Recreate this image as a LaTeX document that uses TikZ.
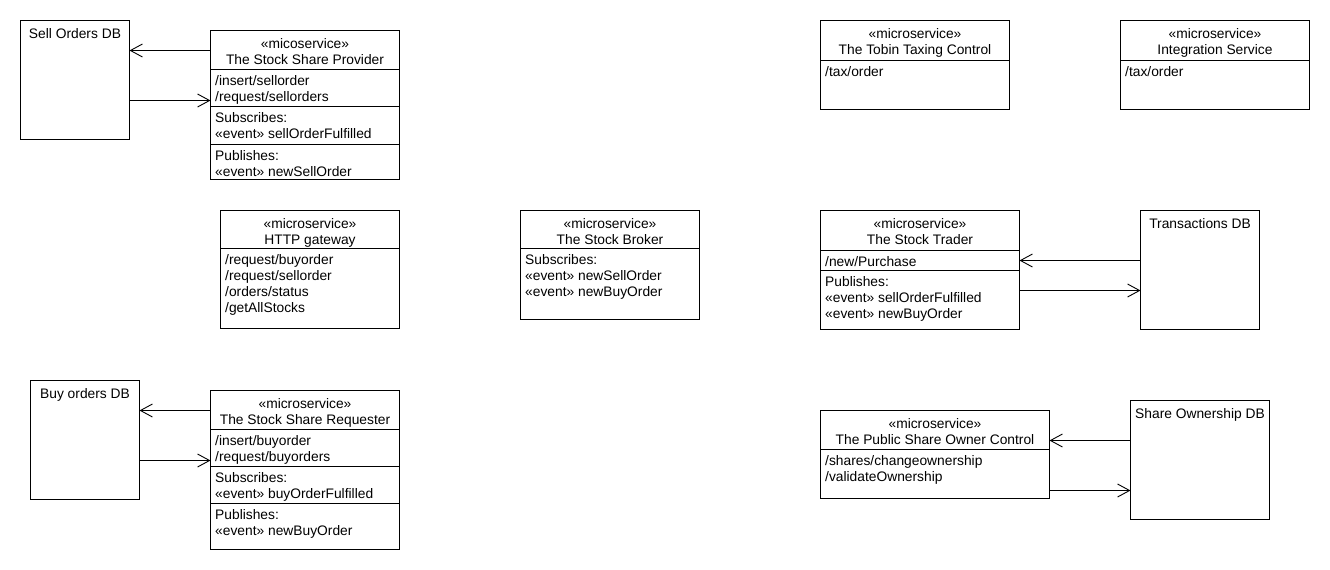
\documentclass[tikz,border=0pt]{standalone}
\usepackage{fontspec}
\setmainfont{Liberation Sans}
\usetikzlibrary{arrows.meta,fit}
\newcommand\tf{\fontsize{13.8}{16}\selectfont}
\begin{document}
\begin{tikzpicture}[x=1pt,y=-1pt,
  frame/.style={draw, line width=0.9pt, inner sep=0pt, outer sep=0pt},
  hd/.style={font=\tf, inner sep=0pt, anchor=base},
  ln/.style={font=\tf, inner sep=0pt, anchor=base west, yshift=-1pt},
  sepline/.style={line width=0.9pt},
  conn/.style={line width=0.9pt, -{Straight Barb[length=12pt,width=13pt,line width=0.9pt]}}]
\useasboundingbox (0,0) rectangle (1330,570);

% ---------- Sell Orders DB + Stock Share Provider
\node[frame, fit={(20.5,20.5) (129.5,139.5)}] (selldb) {};
\node[hd] (selldbt) at (75,38) {Sell Orders DB};
\node[frame, fit={(210.5,30.5) (399.5,179.5)}] (prov) {};
\node[hd] (provh1) at (305,48.5) {«micoservice»};
\node[hd] (provh2) at (305,64.5) {The Stock Share Provider};
\draw[sepline] (210.5,69.5) -- (399.5,69.5);
\node[ln] (provl1) at (215,84.5) {/insert/sellorder};
\node[ln] (provl2) at (215,100.5) {/request/sellorders};
\draw[sepline] (210.5,106.5) -- (399.5,106.5);
\node[ln] (provl3) at (215,121.5) {Subscribes:};
\node[ln] (provl4) at (215,137.5) {«event» sellOrderFulfilled};
\draw[sepline] (210.5,144) -- (399.5,144);
\node[ln] (provl5) at (215,159) {Publishes:};
\node[ln] (provl6) at (215,175) {«event» newSellOrder};
\coordinate (ya) at (0,50.5);
\coordinate (yb) at (0,100.5);
\draw[conn] (prov.west |- ya) -- (selldb.east |- ya);
\draw[conn] (selldb.east |- yb) -- (prov.west |- yb);

% ---------- HTTP gateway
\node[frame, fit={(220.5,210.5) (399.5,328.5)}] (http) {};
\node[hd] (httph1) at (310,228.5) {«microservice»};
\node[hd] (httph2) at (310,244.5) {HTTP gateway};
\draw[sepline] (220.5,248.5) -- (399.5,248.5);
\node[ln] (httpl1) at (225,263.5) {/request/buyorder};
\node[ln] (httpl2) at (225,279.5) {/request/sellorder};
\node[ln] (httpl3) at (225,295.5) {/orders/status};
\node[ln] (httpl4) at (225,311.5) {/getAllStocks};

% ---------- Stock Broker
\node[frame, fit={(520.5,210.5) (699.5,319.5)}] (brok) {};
\node[hd] (brokh1) at (610,228.5) {«microservice»};
\node[hd] (brokh2) at (610,244.5) {The Stock Broker};
\draw[sepline] (520.5,248.5) -- (699.5,248.5);
\node[ln] (brokl1) at (525,263.5) {Subscribes:};
\node[ln] (brokl2) at (525,279.5) {«event» newSellOrder};
\node[ln] (brokl3) at (525,295.5) {«event» newBuyOrder};

% ---------- Tobin Taxing Control
\node[frame, fit={(820.5,20.5) (1009.5,109.5)}] (tobin) {};
\node[hd] (tobinh1) at (915,38.5) {«microservice»};
\node[hd] (tobinh2) at (915,54.5) {The Tobin Taxing Control};
\draw[sepline] (820.5,60.5) -- (1009.5,60.5);
\node[ln] (tobinl1) at (825,75.5) {/tax/order};

% ---------- Integration Service
\node[frame, fit={(1120.5,20.5) (1309.5,109.5)}] (integ) {};
\node[hd] (integh1) at (1215,38.5) {«microservice»};
\node[hd] (integh2) at (1215,54.5) {Integration Service};
\draw[sepline] (1120.5,60.5) -- (1309.5,60.5);
\node[ln] (integl1) at (1125,75.5) {/tax/order};

% ---------- Stock Trader + Transactions DB
\node[frame, fit={(820.5,210.5) (1019.5,329.5)}] (trad) {};
\node[hd] (tradh1) at (920,228.5) {«microservice»};
\node[hd] (tradh2) at (920,244.5) {The Stock Trader};
\draw[sepline] (820.5,250.5) -- (1019.5,250.5);
\node[ln] (tradl1) at (825,265.5) {/new/Purchase};
\draw[sepline] (820.5,270.5) -- (1019.5,270.5);
\node[ln] (tradl2) at (825,285.5) {Publishes:};
\node[ln] (tradl3) at (825,301.5) {«event» sellOrderFulfilled};
\node[ln] (tradl4) at (825,317.5) {«event» newBuyOrder};
\node[frame, fit={(1140.5,210.5) (1259.5,329.5)}] (txdb) {};
\node[hd] (txdbt) at (1200,228) {Transactions DB};
\coordinate (yc) at (0,260.5);
\coordinate (yd) at (0,290.5);
\draw[conn] (txdb.west |- yc) -- (trad.east |- yc);
\draw[conn] (trad.east |- yd) -- (txdb.west |- yd);

% ---------- Buy orders DB + Stock Share Requester
\node[frame, fit={(30.5,380.5) (139.5,499.5)}] (buydb) {};
\node[hd] (buydbt) at (85,398) {Buy orders DB};
\node[frame, fit={(210.5,390.5) (399.5,549.5)}] (req) {};
\node[hd] (reqh1) at (305,408.5) {«microservice»};
\node[hd] (reqh2) at (305,424.5) {The Stock Share Requester};
\draw[sepline] (210.5,429.5) -- (399.5,429.5);
\node[ln] (reql1) at (215,444.5) {/insert/buyorder};
\node[ln] (reql2) at (215,460.5) {/request/buyorders};
\draw[sepline] (210.5,466.5) -- (399.5,466.5);
\node[ln] (reql3) at (215,481.5) {Subscribes:};
\node[ln] (reql4) at (215,497.5) {«event» buyOrderFulfilled};
\draw[sepline] (210.5,503.5) -- (399.5,503.5);
\node[ln] (reql5) at (215,518.5) {Publishes:};
\node[ln] (reql6) at (215,534.5) {«event» newBuyOrder};
\coordinate (ye) at (0,410.5);
\coordinate (yf) at (0,460.5);
\draw[conn] (req.west |- ye) -- (buydb.east |- ye);
\draw[conn] (buydb.east |- yf) -- (req.west |- yf);

% ---------- Public Share Owner Control + Share Ownership DB
\node[frame, fit={(820.5,410.5) (1049.5,498.5)}] (own) {};
\node[hd] (ownh1) at (935,428.5) {«microservice»};
\node[hd] (ownh2) at (935,444.5) {The Public Share Owner Control};
\draw[sepline] (820.5,449.5) -- (1049.5,449.5);
\node[ln] (ownl1) at (825,464.5) {/shares/changeownership};
\node[ln] (ownl2) at (825,480.5) {/validateOwnership};
\node[frame, fit={(1130.5,400.5) (1269.5,519.5)}] (owndb) {};
\node[hd] (owndbt) at (1200,418) {Share Ownership DB};
\coordinate (yg) at (0,440.5);
\coordinate (yh) at (0,490.5);
\draw[conn] (owndb.west |- yg) -- (own.east |- yg);
\draw[conn] (own.east |- yh) -- (owndb.west |- yh);
\end{tikzpicture}
\end{document}
